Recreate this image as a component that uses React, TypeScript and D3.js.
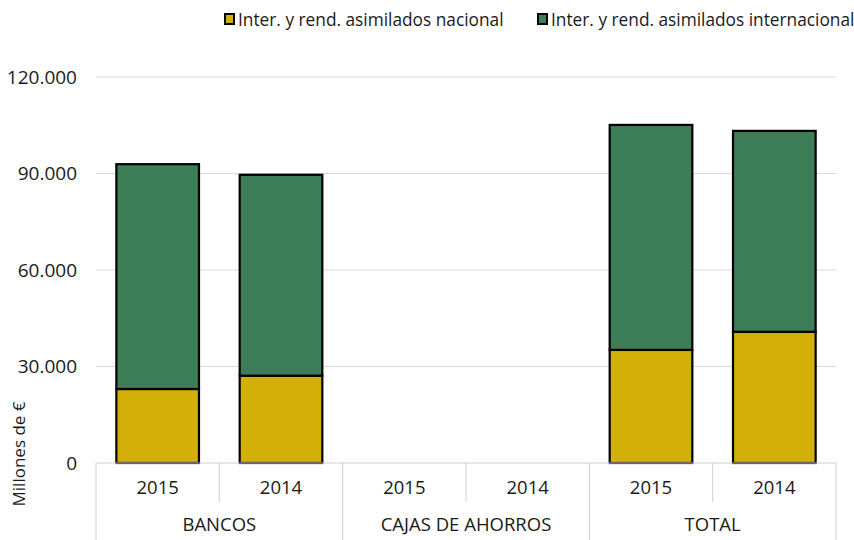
import React from "react";
import * as d3 from "d3";

const groups = ["BANCOS", "CAJAS DE AHORROS", "TOTAL"];
const years = ["2015", "2014"];
const nacional = [23000, 27150, null, null, 35150, 40800];
const internacional = [69900, 62450, null, null, 69950, 62450];
const seriesNames = ["Inter. y rend. asimilados nacional", "Inter. y rend. asimilados internacional"];
const seriesColors = ["#D2B008", "#3D7D58"];
const yTicks = [0, 30000, 60000, 90000, 120000];

const W = 854, H = 540;
const FONT = "'Open Sans', 'Noto Sans', sans-serif";

export default function App() {
  const left = 96, right = 836, top = 77, bottom = 463;
  const cats = groups.flatMap((g) => years.map((y) => `${g}|${y}`));
  const x = d3.scaleBand().domain(cats).range([left, right]).paddingInner(0.33).paddingOuter(0.165);
  const xOuter = d3.scaleBand().domain(cats).range([left, right]);
  const y = d3.scaleLinear().domain([0, 120000]).range([bottom, top]);
  const fmt = (v: number) => d3.format(",")(v).replace(/,/g, ".");
  const rows = cats.map((c, i) => ({ c, nac: nacional[i] ?? 0, int: internacional[i] ?? 0, has: nacional[i] != null }));
  const stack = d3.stack<any>().keys(["nac", "int"])(rows);
  const step = xOuter.bandwidth();
  const bounds = d3.range(cats.length + 1).map((i) => left + i * step);

  return (
    <svg width={W} height={H} style={{ position: "absolute", left: 0, top: 0, fontFamily: FONT }}>
      <rect width={W} height={H} fill="#fff" />
      {yTicks.map((t) => (
        <g key={t}>
          {t > 0 && <line x1={left} x2={right} y1={y(t)} y2={y(t)} stroke="#d9d9d9" strokeWidth={1} />}
          <text x={77} y={y(t)} dy="0.35em" textAnchor="end" fontSize={19} fill="#1a1a1a">{fmt(t)}</text>
        </g>
      ))}
      {stack.map((s, si) => (
        <g key={si}>
          {s.map((d, i) =>
            rows[i].has ? (
              <rect key={i} x={x(cats[i])} y={y(d[1])} width={x.bandwidth()} height={y(d[0]) - y(d[1])}
                fill={seriesColors[si]} stroke="#000" strokeWidth={2.2} />
            ) : null
          )}
        </g>
      ))}
      <line x1={left} x2={right} y1={bottom} y2={bottom} stroke="#d0d0d0" strokeWidth={1} />
      {bounds.map((bx, i) => (
        <line key={i} x1={bx} x2={bx} y1={bottom} y2={i % 2 === 0 ? H : 502} stroke="#d0d0d0" strokeWidth={1} />
      ))}
      {cats.map((c) => (
        <text key={c} x={xOuter(c)! + step / 2} y={494} textAnchor="middle" fontSize={18.5} fill="#1a1a1a">{c.split("|")[1]}</text>
      ))}
      {groups.map((g, i) => (
        <text key={g} x={left + (i * 2 + 1) * step} y={531} textAnchor="middle" fontSize={18.5} fill="#1a1a1a">{g}</text>
      ))}
      <text transform={`translate(25,454) rotate(-90)`} textAnchor="middle" fontSize={17} fill="#1a1a1a">Millones de €</text>
      {seriesNames.map((n, i) => {
        const lx = i === 0 ? 224 : 537;
        return (
          <g key={n}>
            <rect x={lx + 1} y={14} width={9} height={10} fill={seriesColors[i]} stroke="#000" strokeWidth={2} />
            <text x={lx + 14} y={26} fontSize={17.3} fill="#1a1a1a">{n}</text>
          </g>
        );
      })}
    </svg>
  );
}
